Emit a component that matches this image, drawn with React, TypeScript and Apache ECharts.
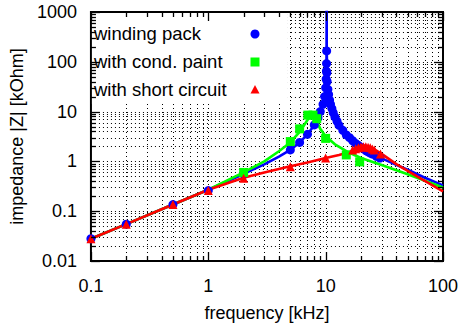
import React, { useEffect, useRef } from "react";
import * as echarts from "echarts";

const FONT = "'Liberation Sans', Arial, sans-serif";

const X_MIN = 0.1;
const X_MAX = 100;
const Y_MIN = 0.01;
const Y_MAX = 1000;
const X_DECADES = [0.1, 1, 10];
const Y_DECADES = [0.01, 0.1, 1, 10, 100];
const MINOR_STEPS = [2, 3, 4, 5, 6, 7, 8, 9];

const SERIES_NAMES = ["winding pack", "with cond. paint", "with short circuit"];
const COLORS = ["#0000ff", "#00ff00", "#ff0000"];

// fitted curves [frequency kHz, |Z| kOhm]
const windingLine = [
  [0.1, 0.028], [0.2, 0.055], [0.5, 0.136], [1, 0.27], [2, 0.56], [3, 0.87], [4, 1.25],
  [5, 1.7], [6, 2.4], [7, 3.5], [8, 5.3], [8.5, 7], [9, 10], [9.5, 14], [9.8, 20],
  [10.0, 30], [10.1, 45], [10.15, 70], [10.18, 165], [10.2, 1500], [10.22, 165],
  [10.3, 60], [10.4, 35], [10.6, 22], [11, 14], [11.5, 10], [12.2, 7], [13, 5.2],
  [15, 3.4], [17, 2.6], [20, 1.9], [25, 1.4], [30, 1.15], [40, 0.85], [50, 0.68],
  [70, 0.47], [100, 0.33],
];
const paintLine = [
  [0.1, 0.028], [0.2, 0.055], [0.5, 0.136], [1, 0.27], [2, 0.6], [3, 1.0], [4, 1.6],
  [5, 2.4], [6, 3.9], [7, 6.8], [7.5, 8.8], [8, 8.2], [8.5, 6], [9, 4.5], [10, 3.2],
  [12, 2.2], [15, 1.6], [20, 1.17], [30, 0.85], [50, 0.55], [100, 0.3],
];
const shortLine = [
  [0.1, 0.028], [0.2, 0.055], [0.5, 0.136], [1, 0.27], [2, 0.47], [3, 0.6], [5, 0.8],
  [7, 0.95], [10, 1.17], [13, 1.35], [16, 1.55], [18, 1.75], [20, 1.92], [22, 1.98],
  [24, 1.92], [26, 1.75], [30, 1.42], [40, 0.88], [60, 0.5], [100, 0.25],
];

// measured points
const windingPoints = [
  [0.1, 0.028], [0.2, 0.055], [0.5, 0.136], [1, 0.26], [2, 0.56], [5, 1.7], [6, 2.4],
  [7, 3.5], [8, 5.4], [8.6, 7.5], [9.0, 10], [9.5, 14], [9.8, 20], [10.0, 30],
  [10.1, 45], [10.15, 65], [10.18, 92], [10.2, 165], [10.25, 60], [10.3, 40],
  [10.45, 28], [10.6, 22], [10.8, 17], [11.0, 14], [11.3, 11.5], [11.6, 9.5],
  [12.0, 7.8], [12.5, 6.4], [13, 5.3], [14, 4.2], [15, 3.4], [16, 3.0], [17, 2.6],
  [18, 2.3], [19, 2.1], [20, 1.9], [21, 1.8], [22, 1.65], [23, 1.55], [24, 1.47],
  [25, 1.4], [27, 1.27], [29, 1.17],
];
const paintPoints = [
  [2, 0.6], [5, 2.5], [6, 4.5], [7.05, 8.5], [7.8, 8.5], [8.4, 7.2], [10, 2.9],
  [15, 1.35], [19.5, 0.98],
];
const shortPoints = [
  [0.1, 0.028], [0.2, 0.055], [0.5, 0.136], [1, 0.26], [2, 0.46], [5, 0.78],
  [10, 1.17], [17, 1.7], [18, 1.8], [19, 1.88], [20, 1.95], [21, 1.98], [22, 1.97],
  [23, 1.93], [24, 1.87], [25, 1.78], [26, 1.7], [29.3, 1.41],
];

function tickValues(decades: number[], max: number) {
  const out: { v: number; major: boolean }[] = [];
  for (const d of decades) {
    out.push({ v: d, major: true });
    for (const m of MINOR_STEPS) out.push({ v: d * m, major: false });
  }
  out.push({ v: max, major: true });
  return out;
}

const X_TICK_LIST = tickValues(X_DECADES, X_MAX);
const Y_TICK_LIST = tickValues(Y_DECADES, Y_MAX);

function crisp(v: number) {
  return Math.round(v) + 0.5;
}

function renderGridLines(_params: any, api: any) {
  const [x0, y0] = api.coord([X_MIN, Y_MIN]);
  const [x1, y1] = api.coord([X_MAX, Y_MAX]);
  const children: any[] = [];
  const style = { stroke: "#000", lineWidth: 1, lineDash: [1, 3] };
  for (const t of X_TICK_LIST) {
    if (t.v <= X_MIN * 1.0001 || t.v >= X_MAX * 0.9999) continue;
    const px = crisp(api.coord([t.v, Y_MIN])[0]);
    children.push({ type: "line", shape: { x1: px, y1: y0, x2: px, y2: y1 }, style });
  }
  for (const t of Y_TICK_LIST) {
    if (t.v <= Y_MIN * 1.0001 || t.v >= Y_MAX * 0.9999) continue;
    const py = crisp(api.coord([X_MIN, t.v])[1]);
    children.push({ type: "line", shape: { x1: x0, y1: py, x2: x1, y2: py }, style });
  }
  // opaque key area (covers the grid behind the legend)
  children.push({
    type: "rect",
    shape: { x: x0 + 1, y: y1 + 1, width: 196, height: 91 },
    style: { fill: "#fff" },
  });
  return { type: "group", children };
}

function renderTicks(_params: any, api: any) {
  const [x0, y0] = api.coord([X_MIN, Y_MIN]);
  const [x1, y1] = api.coord([X_MAX, Y_MAX]);
  const children: any[] = [];
  const style = { stroke: "#000", lineWidth: 1.3 };
  for (const t of X_TICK_LIST) {
    const len = t.major ? 9 : 5;
    const px = crisp(api.coord([t.v, Y_MIN])[0]);
    children.push({ type: "line", shape: { x1: px, y1: y0, x2: px, y2: y0 - len }, style });
    children.push({ type: "line", shape: { x1: px, y1: y1, x2: px, y2: y1 + len }, style });
  }
  for (const t of Y_TICK_LIST) {
    const len = t.major ? 9 : 5;
    const py = crisp(api.coord([X_MIN, t.v])[1]);
    children.push({ type: "line", shape: { x1: x0, y1: py, x2: x0 + len, y2: py }, style });
    children.push({ type: "line", shape: { x1: x1, y1: py, x2: x1 - len, y2: py }, style });
  }
  return { type: "group", children };
}

export default function App() {
  const ref = useRef<HTMLDivElement>(null);
  useEffect(() => {
    if (!ref.current) return;
    const chart = echarts.init(ref.current, undefined, { renderer: "svg" });
    const fmt = (v: number) => String(Number(v.toPrecision(3)));
    const lineSeries = (data: number[][], color: string) => ({
      type: "line",
      data,
      showSymbol: false,
      symbol: "none",
      smooth: false,
      z: 3,
      lineStyle: { color, width: 2.6 },
      silent: true,
    });
    const pointSeries = (name: string, data: number[][], color: string, symbol: string, size: number) => ({
      type: "scatter",
      name,
      data,
      symbol,
      symbolSize: size,
      z: 4,
      itemStyle: { color, opacity: 1 },
      silent: true,
    });
    const legendY = [34, 62, 90];
    chart.setOption({
      animation: false,
      backgroundColor: "#fff",
      textStyle: { fontFamily: FONT },
      grid: {
        left: 83,
        right: 20,
        top: 12,
        bottom: 59,
        show: true,
        borderColor: "#000",
        borderWidth: 2,
        backgroundColor: "transparent",
      },
      xAxis: {
        type: "log",
        logBase: 10,
        min: X_MIN,
        max: X_MAX,
        axisLine: { show: false },
        axisTick: { show: false },
        splitLine: { show: false },
        minorTick: { show: false },
        axisLabel: { fontSize: 18, color: "#000", margin: 16, fontFamily: FONT, formatter: fmt },
        name: "frequency [kHz]",
        nameLocation: "middle",
        nameGap: 43,
        nameTextStyle: { fontSize: 18, color: "#000", fontFamily: FONT },
      },
      yAxis: {
        type: "log",
        logBase: 10,
        min: Y_MIN,
        max: Y_MAX,
        axisLine: { show: false },
        axisTick: { show: false },
        splitLine: { show: false },
        minorTick: { show: false },
        axisLabel: { fontSize: 18, color: "#000", margin: 14, fontFamily: FONT, formatter: fmt },
        name: "impedance |Z| [kOhm]",
        nameLocation: "middle",
        nameGap: 64,
        nameTextStyle: { fontSize: 18, color: "#000", fontFamily: FONT },
      },
      graphic: {
        elements: [
          ...SERIES_NAMES.map((n, i) => ({
            type: "text",
            z: 100,
            left: 94,
            top: legendY[i] - 10,
            style: {
              text: n,
              fill: "#000",
              fontSize: 18.5,
              fontFamily: FONT,
            },
            silent: true,
          })),
          { type: "circle", z: 100, shape: { cx: 255, cy: legendY[0], r: 4.5 }, style: { fill: COLORS[0] }, silent: true },
          { type: "rect", z: 100, shape: { x: 250.5, y: legendY[1] - 4.5, width: 9, height: 9 }, style: { fill: COLORS[1] }, silent: true },
          {
            type: "polygon",
            z: 100,
            shape: { points: [[255, legendY[2] - 5], [259.5, legendY[2] + 3.5], [250.5, legendY[2] + 3.5]] },
            style: { fill: COLORS[2] },
            silent: true,
          },
        ],
      },
      series: [
        {
          type: "custom",
          coordinateSystem: "cartesian2d",
          data: [[1, 1]],
          renderItem: renderGridLines,
          z: 1,
          silent: true,
          clip: false,
        },
        lineSeries(windingLine, COLORS[0]),
        lineSeries(paintLine, COLORS[1]),
        lineSeries(shortLine, COLORS[2]),
        pointSeries(SERIES_NAMES[0], windingPoints, COLORS[0], "circle", 9),
        pointSeries(SERIES_NAMES[1], paintPoints, COLORS[1], "rect", 9),
        pointSeries(SERIES_NAMES[2], shortPoints, COLORS[2], "triangle", 9),
        {
          type: "custom",
          coordinateSystem: "cartesian2d",
          data: [[1, 1]],
          renderItem: renderTicks,
          z: 5,
          silent: true,
          clip: false,
        },
      ],
    });
    return () => chart.dispose();
  }, []);
  return <div ref={ref} style={{ width: 463, height: 327, position: "absolute", left: 0, top: 0 }} />;
}
